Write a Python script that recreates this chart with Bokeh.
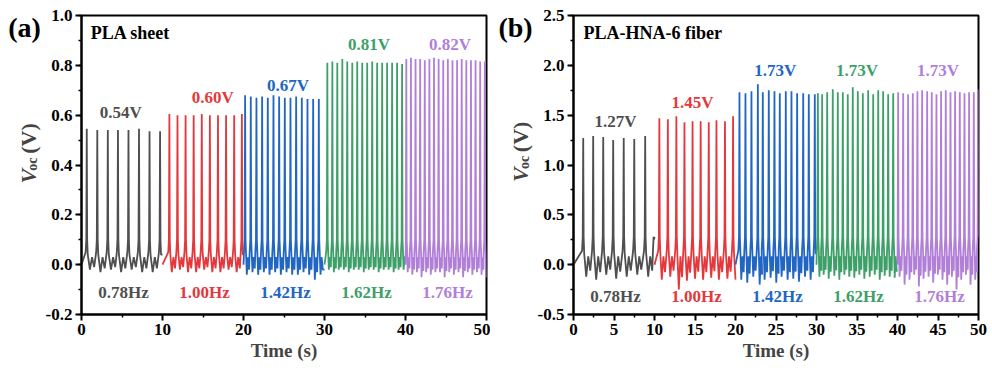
import numpy as np
from bokeh.plotting import figure
from bokeh.layouts import row
from bokeh.models import Label, NumeralTickFormatter, Range1d, FixedTicker, ColumnDataSource
from bokeh.embed import file_html
from bokeh.resources import INLINE

# ---------------- data ----------------
colors = ["#4f4f4f", "#e5383d", "#2266c4", "#3e9f69", "#b17fd8"]
freq_labels = ["0.78Hz", "1.00Hz", "1.42Hz", "1.62Hz", "1.76Hz"]
seg_bounds = [0, 10, 20, 30, 40, 50]

# Panel (a) PLA sheet
volt_labels_a = ["0.54V", "0.60V", "0.67V", "0.81V", "0.82V"]
gray_a_t = [0.65, 1.95, 3.25, 4.5, 5.8, 7.1, 8.4, 9.7]
gray_a_v = [0.545, 0.54, 0.54, 0.54, 0.54, 0.545, 0.535, 0.535]
gray_a_min = [-0.02, -0.03, -0.02, -0.03, -0.02, -0.03, -0.03, -0.04]
red_a_t = [10.85, 11.85, 12.85, 13.85, 14.85, 15.85, 16.85, 17.85, 18.85, 19.8]
red_a_v = [0.605, 0.60, 0.60, 0.60, 0.605, 0.60, 0.60, 0.60, 0.60, 0.605]
red_a_min = [-0.03, -0.02, -0.03, -0.03, -0.02, -0.03, -0.03, -0.02, -0.03, -0.03]
blue_a_t = [20.2, 20.9, 21.6, 22.3, 23.0, 23.7, 24.4, 25.1, 25.8, 26.5, 27.2, 27.9, 28.6, 29.3]
blue_a_v = [0.68, 0.675, 0.67, 0.675, 0.67, 0.68, 0.675, 0.67, 0.67, 0.675, 0.67, 0.665, 0.665, 0.665]
blue_a_min = [-0.04, -0.03, -0.04, -0.03, -0.04, -0.03, -0.04, -0.03, -0.04, -0.04, -0.03, -0.04, -0.06, -0.04]
green_a_t = [30.35, 30.97, 31.58, 32.2, 32.81, 33.43, 34.04, 34.66, 35.27, 35.89, 36.5, 37.12, 37.73, 38.35, 38.96, 39.58]
green_a_v = [0.81, 0.815, 0.81, 0.825, 0.815, 0.81, 0.815, 0.81, 0.81, 0.815, 0.81, 0.81, 0.81, 0.81, 0.81, 0.805]
green_a_min = [-0.02, -0.03, -0.02, -0.02, -0.03, -0.02, -0.02, -0.03, -0.02, -0.02, -0.03, -0.02, -0.02, -0.03, -0.02, -0.02]
purple_a_t = [40.1, 40.67, 41.24, 41.81, 42.38, 42.95, 43.52, 44.09, 44.66, 45.23, 45.8, 46.37, 46.94, 47.51, 48.08, 48.65, 49.22, 49.79]
purple_a_v = [0.825, 0.83, 0.825, 0.825, 0.82, 0.825, 0.83, 0.825, 0.82, 0.825, 0.82, 0.82, 0.825, 0.82, 0.82, 0.82, 0.815, 0.815]
purple_a_min = [-0.03, -0.04, -0.03, -0.05, -0.03, -0.04, -0.03, -0.03, -0.05, -0.03, -0.04, -0.03, -0.05, -0.03, -0.04, -0.03, -0.04, -0.05]

# Panel (b) PLA-HNA-6 fiber
volt_labels_b = ["1.27V", "1.45V", "1.73V", "1.73V", "1.73V"]
gray_b_t = [1.2, 2.43, 3.67, 4.9, 6.2, 7.5, 8.85, 9.95]
gray_b_v = [1.27, 1.29, 1.28, 1.25, 1.27, 1.26, 1.29, 0.25]
gray_b_min = [-0.12, -0.15, -0.1, -0.14, -0.12, -0.1, -0.12, -0.1]
red_b_t = [10.6, 11.65, 12.7, 13.7, 14.7, 15.7, 16.7, 17.65, 18.7, 19.7]
red_b_v = [1.47, 1.46, 1.49, 1.43, 1.44, 1.44, 1.43, 1.45, 1.44, 1.49]
red_b_min = [-0.15, -0.12, -0.25, -0.16, -0.14, -0.15, -0.13, -0.15, -0.14, -0.15]
blue_b_t = [20.49, 21.23, 21.97, 22.76, 23.37, 24.11, 24.81, 25.47, 26.21, 26.91, 27.61, 28.36, 29.05, 29.79]
blue_b_v = [1.73, 1.72, 1.74, 1.81, 1.73, 1.75, 1.74, 1.72, 1.74, 1.74, 1.72, 1.72, 1.71, 1.71]
blue_b_min = [-0.15, -0.18, -0.12, -0.2, -0.15, -0.13, -0.18, -0.12, -0.15, -0.14, -0.17, -0.12, -0.15, -0.13]
green_b_t = [30.17, 30.7, 31.32, 32.01, 32.63, 33.25, 33.86, 34.48, 35.1, 35.72, 36.38, 37.0, 37.62, 38.23, 38.85, 39.47]
green_b_v = [1.72, 1.71, 1.73, 1.76, 1.73, 1.73, 1.71, 1.78, 1.74, 1.72, 1.75, 1.71, 1.75, 1.74, 1.71, 1.72]
green_b_min = [-0.12, -0.1, -0.14, -0.11, -0.15, -0.1, -0.12, -0.13, -0.1, -0.14, -0.12, -0.1, -0.15, -0.11, -0.12, -0.13]
purple_b_t = [40.08, 40.7, 41.31, 41.89, 42.46, 43.04, 43.66, 44.23, 44.81, 45.38, 45.96, 46.54, 47.11, 47.69, 48.27, 48.84, 49.42, 49.95]
purple_b_v = [1.73, 1.72, 1.71, 1.72, 1.74, 1.75, 1.74, 1.73, 1.71, 1.74, 1.75, 1.73, 1.74, 1.73, 1.72, 1.73, 1.73, 1.76]
purple_b_min = [-0.12, -0.2, -0.15, -0.1, -0.22, -0.14, -0.12, -0.18, -0.1, -0.15, -0.2, -0.12, -0.25, -0.15, -0.1, -0.2, -0.15, -0.12]

segments_a = [(gray_a_t, gray_a_v, gray_a_min), (red_a_t, red_a_v, red_a_min),
              (blue_a_t, blue_a_v, blue_a_min), (green_a_t, green_a_v, green_a_min),
              (purple_a_t, purple_a_v, purple_a_min)]
segments_b = [(gray_b_t, gray_b_v, gray_b_min), (red_b_t, red_b_v, red_b_min),
              (blue_b_t, blue_b_v, blue_b_min), (green_b_t, green_b_v, green_b_min),
              (purple_b_t, purple_b_v, purple_b_min)]

FONT = "Liberation Serif"
H = 372


def pulse_path(ts, vs, mins, t0, t1, shoulder):
    """Polyline through the read peaks and troughs of one segment."""
    period = float(np.median(np.diff(ts))) if len(ts) > 1 else 1.0
    xs, ys = [t0], [0.0]
    for t, v, m in zip(ts, vs, mins):
        pts = [(t - 0.14, shoulder * 0.5), (t - 0.06, shoulder), (t, v),
               (t + 0.05, shoulder), (t + 0.12, shoulder * 0.4),
               (t + 0.3 * period, m), (t + 0.5 * period, shoulder * 0.3),
               (t + 0.7 * period, m * 0.5)]
        for x, y in pts:
            if t0 <= x <= t1:
                xs.append(x)
                ys.append(y)
    xs.append(t1)
    ys.append(ys[-1])
    return xs, ys


def side_panel(width, tag, tag_x, ylab):
    """Narrow strip left of a panel holding the panel tag and the y-axis title."""
    s = figure(width=width, height=H, x_range=Range1d(0, width), y_range=Range1d(0, H),
               output_backend="svg", toolbar_location=None,
               min_border_left=0, min_border_right=0, min_border_top=0, min_border_bottom=0)
    s.axis.visible = False
    s.grid.visible = False
    s.outline_line_color = None
    s.add_layout(Label(x=tag_x, y=H - 15, text=tag, text_font=FONT, text_font_style="bold",
                       text_font_size="28px", text_color="black",
                       text_align="center", text_baseline="middle"))
    bx, yV, yoc, yP = ylab
    s.add_layout(Label(x=bx, y=H - yV, text="V", angle=np.pi / 2, text_font=FONT,
                       text_font_style="bold italic", text_font_size="22px",
                       text_align="left", text_baseline="alphabetic"))
    s.add_layout(Label(x=bx + 4, y=H - yoc, text="oc", angle=np.pi / 2, text_font=FONT,
                       text_font_style="bold", text_font_size="14px",
                       text_align="left", text_baseline="alphabetic"))
    s.add_layout(Label(x=bx, y=H - yP, text="(V)", angle=np.pi / 2, text_font=FONT,
                       text_font_style="bold", text_font_size="22px",
                       text_align="left", text_baseline="alphabetic"))
    return s


def make_panel(width, border_left, border_right, ymin, ymax, ystep, segs, vlabels,
               vlabel_pos, flabel_y, title, title_pos, xticks, xminor, shoulder):
    p = figure(width=width, height=H, x_range=Range1d(0, 50), y_range=Range1d(ymin, ymax),
               output_backend="svg", toolbar_location=None,
               min_border_left=border_left, min_border_right=border_right,
               min_border_top=15, min_border_bottom=H - 314)
    p.xgrid.visible = False
    p.ygrid.visible = False
    p.outline_line_color = "black"
    p.outline_line_width = 2
    p.outline_line_alpha = 1.0

    p.xaxis.ticker = FixedTicker(ticks=xticks, minor_ticks=xminor)
    yt = list(np.round(np.arange(ymin, ymax + 1e-9, ystep), 3))
    ym = list(np.round(np.arange(ymin, ymax + 1e-9, ystep / 2), 3))
    p.yaxis.ticker = FixedTicker(ticks=yt, minor_ticks=ym)
    p.yaxis.formatter = NumeralTickFormatter(format="0.0")
    for ax in (p.xaxis[0], p.yaxis[0]):
        ax.axis_line_width = 2
        ax.major_tick_line_width = 2
        ax.minor_tick_line_width = 1.5
        ax.major_tick_out = 6
        ax.major_tick_in = 0
        ax.minor_tick_out = 3
        ax.minor_tick_in = 0
        ax.major_label_text_font = FONT
        ax.major_label_text_font_style = "bold"
        ax.major_label_text_font_size = "17px"
        ax.major_label_text_color = "black"
        ax.major_label_standoff = 3
    p.xaxis.axis_label = "Time (s)"
    p.xaxis.axis_label_text_font = FONT
    p.xaxis.axis_label_text_font_style = "bold"
    p.xaxis.axis_label_text_font_size = "19px"
    p.xaxis.axis_label_standoff = 2

    for i, (ts, vs, mins) in enumerate(segs):
        xs, ys = pulse_path(ts, vs, mins, seg_bounds[i], seg_bounds[i + 1], shoulder)
        src = ColumnDataSource(data=dict(x=xs, y=ys))
        p.line("x", "y", source=src, line_color=colors[i], line_width=1.8)

    for i in range(5):
        vx, vy = vlabel_pos[i]
        p.add_layout(Label(x=vx, y=vy, text=vlabels[i], text_font=FONT, text_font_style="bold",
                           text_font_size="17px", text_color=colors[i],
                           text_align="center", text_baseline="middle"))
        p.add_layout(Label(x=seg_bounds[i] + 5.2, y=flabel_y, text=freq_labels[i], text_font=FONT,
                           text_font_style="bold", text_font_size="17px", text_color=colors[i],
                           text_align="center", text_baseline="middle"))
    p.add_layout(Label(x=title_pos[0], y=title_pos[1], text=title, text_font=FONT,
                       text_font_style="bold", text_font_size="18px", text_color="black",
                       text_align="left", text_baseline="middle"))
    return p


sa = side_panel(42, "(a)", 24, (28, 209, 193, 172))
pa = make_panel(448, 39, 4, -0.2, 1.0, 0.2, segments_a, volt_labels_a,
                [(4.85, 0.61), (16.2, 0.67), (25.5, 0.72), (35.5, 0.885), (45.5, 0.885)],
                -0.11, "PLA sheet", (1.15, 0.928),
                [0, 10, 20, 30, 40, 50], [5, 15, 25, 35, 45], 0.10)
sb = side_panel(44, "(b)", 25, (30, 207, 191, 170))
pb = make_panel(458, 39, 14, -0.5, 2.5, 0.5, segments_b, volt_labels_b,
                [(5.2, 1.44), (14.7, 1.63), (24.9, 1.95), (35.0, 1.95), (45.0, 1.95)],
                -0.32, "PLA-HNA-6 fiber", (1.23, 2.32),
                list(range(0, 51, 5)), [2.5 + 5 * k for k in range(10)], 0.28)

layout = row(sa, pa, sb, pb)
open("out.html", "w").write(file_html(layout, INLINE))
